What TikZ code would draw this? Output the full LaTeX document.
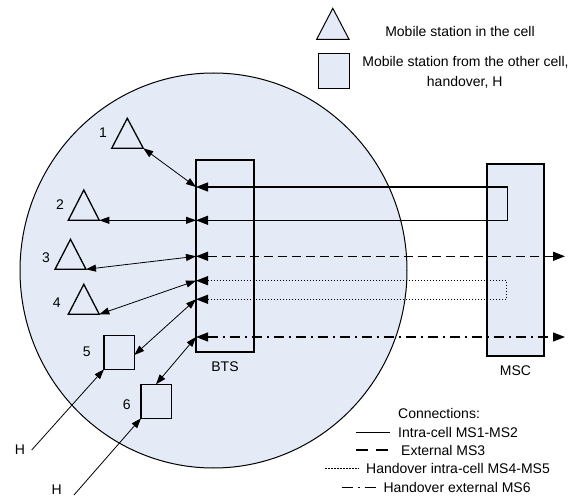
\documentclass[tikz,border=0pt]{standalone}
\usepackage{fontspec}
\setmainfont{Liberation Sans}
\usetikzlibrary{arrows.meta}
\definecolor{cellblue}{RGB}{228,234,246}
\tikzset{
  txt/.style={font=\fontsize{14}{16}\selectfont, inner sep=0pt},
  msshape/.style={draw=black, line width=1.3pt},
  unit/.style={draw=black, line width=1.3pt},
  link/.style={line width=0.8pt, {Triangle[length=10pt,width=7pt]}-{Triangle[length=10pt,width=7pt]}},
  trunk/.style={line width=1.3pt, {Triangle[length=12pt,width=9pt]}-{Triangle[length=12pt,width=9pt]}},
  dashline/.style={dash pattern=on 9pt off 5pt},
  dotline/.style={dash pattern=on 1.5pt off 1.5pt},
  dashdotline/.style={dash pattern=on 10pt off 5pt on 2pt off 5pt},
  hline/.style={line width=0.8pt, -{Triangle[length=10pt,width=7pt]}},
}
\begin{document}
\begin{tikzpicture}[x=1pt,y=-1pt]
\useasboundingbox (0,0) rectangle (579,497);
% cell
\fill[cellblue] (213.5,270.5) ellipse [x radius=193.5, y radius=197.5];
\draw[line width=1pt] (213.5,270.5) ellipse [x radius=193.5, y radius=197.5];
% BTS and MSC
\draw[unit] (196,160) rectangle (254,352);
\node[txt] (bts) at (225,367) {BTS};
\draw[unit, fill=cellblue] (487,164) rectangle (544,356);
\node[txt] (msc) at (515.5,371) {MSC};
% attachment points on BTS
\coordinate (b1) at (196,187);
\coordinate (b2) at (196,220.3);
\coordinate (b3) at (196,256.3);
\coordinate (b4) at (196,280.7);
\coordinate (b5) at (196,299.3);
\coordinate (b6) at (196,337);
% loop corners and outputs
\coordinate (l1a) at (507.3,187);
\coordinate (l1b) at (507.3,220.3);
\coordinate (l2a) at (506.7,280.7);
\coordinate (l2b) at (506.7,299.3);
\coordinate (o3) at (565,256.3);
\coordinate (o6) at (565,337);
% trunks
\draw[trunk] (b1) -- (l1a) -- (l1b) -- (b2);
\draw[trunk, dashline] (b3) -- (o3);
\draw[trunk, dotline, line width=1.1pt] (b4) -- (l2a) -- (l2b) -- (b5);
\draw[trunk, dashdotline, line width=1.1pt] (b6) -- (o6);
% mobile stations (triangles)
\coordinate (t1) at (143.3,148.3);
\draw[msshape] (111.7,148.3) -- (127.3,118.3) -- (t1) -- cycle;
\node[txt] (n1) at (103,133) {1};
\coordinate (t2) at (99.3,220.3);
\draw[msshape] (68.3,220.3) -- (83.8,190) -- (t2) -- cycle;
\node[txt] (n2) at (60,205) {2};
\coordinate (t3) at (86,269.3);
\draw[msshape] (55,269.3) -- (70.5,239.3) -- (t3) -- cycle;
\node[txt] (n3) at (46,257.7) {3};
\coordinate (t4) at (99.3,314.3);
\draw[msshape] (68.3,314.3) -- (83.8,284.3) -- (t4) -- cycle;
\node[txt] (n4) at (56.7,302.7) {4};
% handover stations (squares)
\draw[msshape] (104,335.5) rectangle (134.3,369.3);
\coordinate (s5r) at (134.3,355);
\coordinate (s5c) at (104,369.3);
\node[txt] (n5) at (86.7,351.7) {5};
\draw[msshape] (141,384.3) rectangle (171.3,418.3);
\coordinate (s6t) at (156,384.3);
\coordinate (s6c) at (141,418.3);
\node[txt] (n6) at (126.7,405) {6};
% radio links
\draw[link] (t1) -- (b1);
\draw[link] (t2) -- (b2);
\draw[link] (t3) -- (b3);
\draw[link] (t4) -- (b4);
\draw[link] (s5r) -- (b5);
\draw[link] (s6t) -- (b6);
% handover arrivals
\node[txt] (h1) at (20,449.5) {H};
\coordinate (h1s) at (31.7,450);
\draw[hline] (h1s) -- (s5c);
\node[txt] (h2) at (56.7,489.5) {H};
\coordinate (h2s) at (74,495);
\draw[hline] (h2s) -- (s6c);
% legend symbols
\draw[line width=1pt, fill=cellblue] (316.7,39.3) -- (332.8,8.3) -- (349,39.3) -- cycle;
\node[txt] (lg1) at (460,31.7) {Mobile station in the cell};
\draw[line width=1pt, fill=cellblue] (318.3,54) rectangle (349.3,88.3);
\node[txt] (lg2) at (465.5,62) {Mobile station from the other cell,};
\node[txt] (lg3) at (464.7,82) {handover, H};
% legend of connections
\node[txt, anchor=west] (c0) at (398,413.3) {Connections:};
\node[txt, anchor=west] (c1) at (398,432.7) {Intra-cell MS1-MS2};
\node[txt, anchor=west] (c2) at (401,450) {External MS3};
\node[txt, anchor=west] (c3) at (366,468.3) {Handover intra-cell MS4-MS5};
\node[txt, anchor=west] (c4) at (383.3,487.3) {Handover external MS6};
\coordinate (k1a) at (355.7,432.7); \coordinate (k1b) at (390,432.7);
\coordinate (k2a) at (355.7,450); \coordinate (k2b) at (390,450);
\coordinate (k3a) at (325,468.3); \coordinate (k3b) at (358.3,468.3);
\coordinate (k4a) at (341.7,487.3); \coordinate (k4b) at (377.3,487.3);
\draw[line width=1.1pt] (k1a) -- (k1b);
\draw[line width=1.1pt, dash pattern=on 12pt off 8pt] (k2a) -- (k2b);
\draw[line width=1.1pt, dash pattern=on 1.5pt off 1.5pt] (k3a) -- (k3b);
\draw[line width=1.1pt, dash pattern=on 11pt off 5pt on 2pt off 5pt] (k4a) -- (k4b);
\end{tikzpicture}
\end{document}
